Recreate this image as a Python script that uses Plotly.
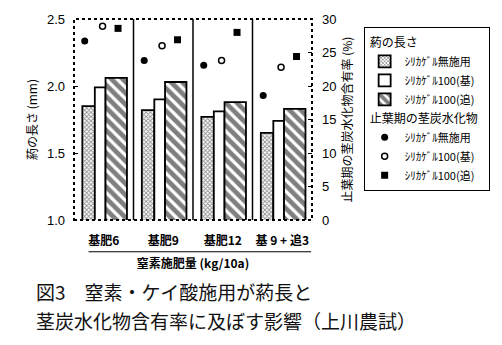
import plotly.graph_objects as go

categories = ["基肥6", "基肥9", "基肥12", "基 9 + 追3"]
pos = [0, 1, 2, 3]

# 葯の長さ (mm)
len_none = [1.85, 1.82, 1.77, 1.65]
len_base = [1.99, 1.90, 1.81, 1.74]
len_top = [2.06, 2.03, 1.88, 1.83]

# 止葉期の茎炭水化物含有率 (%)
cho_none = [26.7, 23.8, 23.1, 18.6]
cho_base = [28.9, 26.0, 23.8, 22.8]
cho_top = [28.6, 26.9, 28.0, 24.4]

names = ["ｼﾘｶｹﾞﾙ無施用", "ｼﾘｶｹﾞﾙ100(基)", "ｼﾘｶｹﾞﾙ100(追)"]

FONT = "Liberation Sans, Noto Sans CJK JP, sans-serif"
CJK = "Noto Sans CJK JP, sans-serif"

fig = go.Figure()

bar_specs = [
    (len_none, -0.36, 0.21, dict(shape="x", size=3, solidity=0.5, fgcolor="#222", bgcolor="white")),
    (len_base, -0.15, 0.18, dict(shape="", fgcolor="black", bgcolor="white")),
    (len_top, 0.03, 0.36, dict(shape="\\", size=8, solidity=0.6, fgcolor="black", bgcolor="white")),
]
for i, (vals, off, w, pat) in enumerate(bar_specs):
    fig.add_trace(go.Bar(
        x=pos, y=vals, name=names[i], offset=off, width=w,
        marker=dict(color="white", pattern=pat, line=dict(color="black", width=1.8)),
        legendgroup="len", legendgrouptitle=dict(text="葯の長さ", font=dict(size=12, family=CJK, color="black")),
        yaxis="y",
    ))

mk_specs = [
    (cho_none, -0.32, dict(symbol="circle", size=7, color="black")),
    (cho_base, -0.02, dict(symbol="circle-open", size=6, color="black", line=dict(width=1.5, color="black"))),
    (cho_top, 0.24, dict(symbol="square", size=7, color="black")),
]
for i, (vals, off, mk) in enumerate(mk_specs):
    fig.add_trace(go.Scatter(
        x=[p + off for p in pos], y=vals, name=names[i], mode="markers", marker=mk,
        legendgroup="cho", legendgrouptitle=dict(text="止葉期の茎炭水化物", font=dict(size=12, family=CJK, color="black")),
        yaxis="y2",
    ))

shapes = []
for xv in [0.5, 1.5, 2.5]:
    shapes.append(dict(type="line", xref="x", yref="y domain", x0=xv, x1=xv, y0=0, y1=1,
                       line=dict(color="black", width=1.5)))
shapes.append(dict(type="rect", xref="paper", yref="paper", x0=0, x1=1, y0=0, y1=1,
                   line=dict(color="black", width=2, dash="dot")))
shapes.append(dict(type="line", xref="paper", yref="paper", x0=0.061, x1=0.996, y0=-0.158, y1=-0.158,
                   line=dict(color="black", width=1.2)))

fig.update_layout(
    width=502, height=345,
    margin=dict(l=74, r=184, t=15, b=125),
    paper_bgcolor="white", plot_bgcolor="white",
    barmode="overlay",
    font=dict(family=FONT, size=12, color="black"),
    xaxis=dict(range=[-0.5, 3.5], tickvals=pos, ticktext=categories, showgrid=False, zeroline=False,
               showline=False, ticks="", ticklabelstandoff=12,
               tickfont=dict(size=12, family=CJK, weight="bold"),
               title=dict(text="窒素施肥量 (kg/10a)", font=dict(size=12, family=CJK, weight="bold"), standoff=12)),
    yaxis=dict(range=[1.0, 2.5], tickvals=[1.0, 1.5, 2.0, 2.5], tickformat=".1f",
               showgrid=False, zeroline=False, showline=False, ticks="inside", ticklen=4,
               tickcolor="black", tickwidth=1.2, ticklabelstandoff=8, tickfont=dict(size=13),
               title=dict(text="葯の長さ (mm)", font=dict(size=12, family=CJK), standoff=6)),
    yaxis2=dict(range=[0, 30], tickvals=[0, 5, 10, 15, 20, 25, 30], overlaying="y", side="right",
                showgrid=False, zeroline=False, showline=False, ticks="inside", ticklen=4,
                tickcolor="black", tickwidth=1.2, ticklabelstandoff=9, tickfont=dict(size=13),
                title=dict(text="止葉期の茎炭水化物含有率 (%)", font=dict(size=12, family=CJK), standoff=8)),
    legend=dict(x=1.217, y=0.961, xanchor="left", yanchor="top", bordercolor="black", borderwidth=1,
                bgcolor="white", font=dict(size=11, family=CJK), traceorder="grouped",
                tracegroupgap=0, itemwidth=30),
    shapes=shapes,
    annotations=[
        dict(text="図3　窒素・ケイ酸施用が葯長と", xref="paper", yref="paper", x=-0.168, y=-0.356,
             xanchor="left", yanchor="middle", showarrow=False, font=dict(size=19, family=CJK, color="#111")),
        dict(text="茎炭水化物含有率に及ぼす影響（上川農試）", xref="paper", yref="paper", x=-0.168, y=-0.498,
             xanchor="left", yanchor="middle", showarrow=False, font=dict(size=19, family=CJK, color="#111")),
    ],
)

fig.write_html("out.html")
